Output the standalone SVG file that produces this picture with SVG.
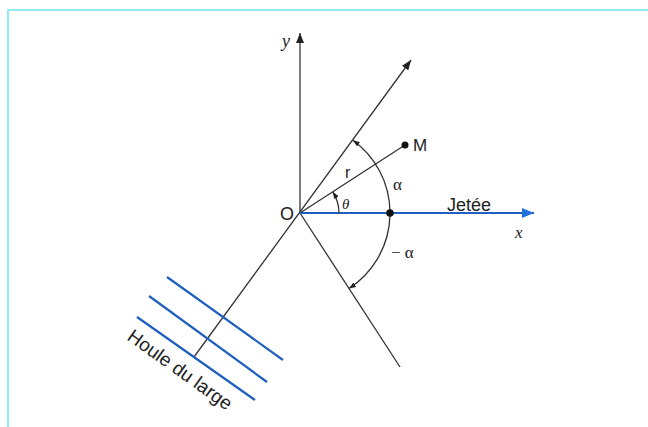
<svg xmlns="http://www.w3.org/2000/svg" width="648" height="427" viewBox="0 0 648 427">
<style>
.ln{stroke:#333;stroke-width:1.3;fill:none}
.bl{stroke:#1f5fbf;stroke-width:2.2;fill:none}
.tx{font-family:"Liberation Sans",Arial,sans-serif;fill:#222}
.it{font-family:"Liberation Serif","Times New Roman",serif;font-style:italic;fill:#222}
.gr{font-family:"Liberation Serif","Times New Roman",serif;fill:#222}
</style>
<defs>
<marker id="ah" viewBox="0 0 10 8" refX="10" refY="4" markerWidth="10" markerHeight="8" markerUnits="userSpaceOnUse" orient="auto"><path d="M0,0 L10,4 L0,8 Z" fill="#222"/></marker>
<marker id="as" viewBox="0 0 8 6" refX="8" refY="3" markerWidth="7" markerHeight="5.5" markerUnits="userSpaceOnUse" orient="auto-start-reverse"><path d="M0,0 L8,3 L0,6 Z" fill="#222"/></marker>
<marker id="ab" viewBox="0 0 12 10" refX="12" refY="5" markerWidth="13" markerHeight="10" markerUnits="userSpaceOnUse" orient="auto"><path d="M0,0 L12,5 L0,10 Z" fill="#1f6fdc"/></marker>
</defs>
<rect x="8" y="10" width="700" height="500" fill="none" stroke="#6fe8f0" stroke-width="1.5"/>
<g id="connectors">
<line class="ln" x1="300" y1="213" x2="300" y2="33" marker-end="url(#ah)"/>
<line class="ln" x1="194" y1="357" x2="411" y2="60" marker-end="url(#ah)"/>
<line class="ln" x1="300" y1="213" x2="400" y2="367"/>
<line class="ln" x1="300" y1="213" x2="405" y2="145"/>
<line class="bl" x1="300" y1="213" x2="534" y2="213" marker-end="url(#ab)"/>
<path class="ln" d="M352.9,140.2 A90 90 0 0 1 349,288.5" marker-start="url(#as)" marker-end="url(#as)"/>
<path class="ln" d="M339,213 A39 39 0 0 0 332.7,191.8" marker-end="url(#as)"/>
</g>
<g id="waves">
<line class="bl" x1="167" y1="277" x2="283" y2="360"/>
<line class="bl" x1="149" y1="296" x2="267" y2="382"/>
<line class="bl" x1="137" y1="317" x2="255" y2="400"/>
</g>
<g id="M"><circle cx="405" cy="145" r="3.5" fill="#111"/><text class="tx" x="413" y="151" font-size="17">M</text></g>
<g id="P"><circle cx="390" cy="213" r="3.8" fill="#111"/></g>
<g id="labels">
<text class="it" x="282" y="47" font-size="18">y</text>
<text class="tx" x="280" y="220" font-size="18">O</text>
<text class="tx" x="345" y="178" font-size="16">r</text>
<text class="gr" x="393" y="190" font-size="17">α</text>
<text class="it" x="342" y="209" font-size="15">θ</text>
<text class="tx" x="447" y="211" font-size="18">Jetée</text>
<text class="it" x="515" y="238" font-size="17">x</text>
<text class="gr" x="391" y="258" font-size="17">− α</text>
<text class="tx" font-size="19" transform="translate(126,339) rotate(35.6)">Houle du large</text>
</g>
</svg>
